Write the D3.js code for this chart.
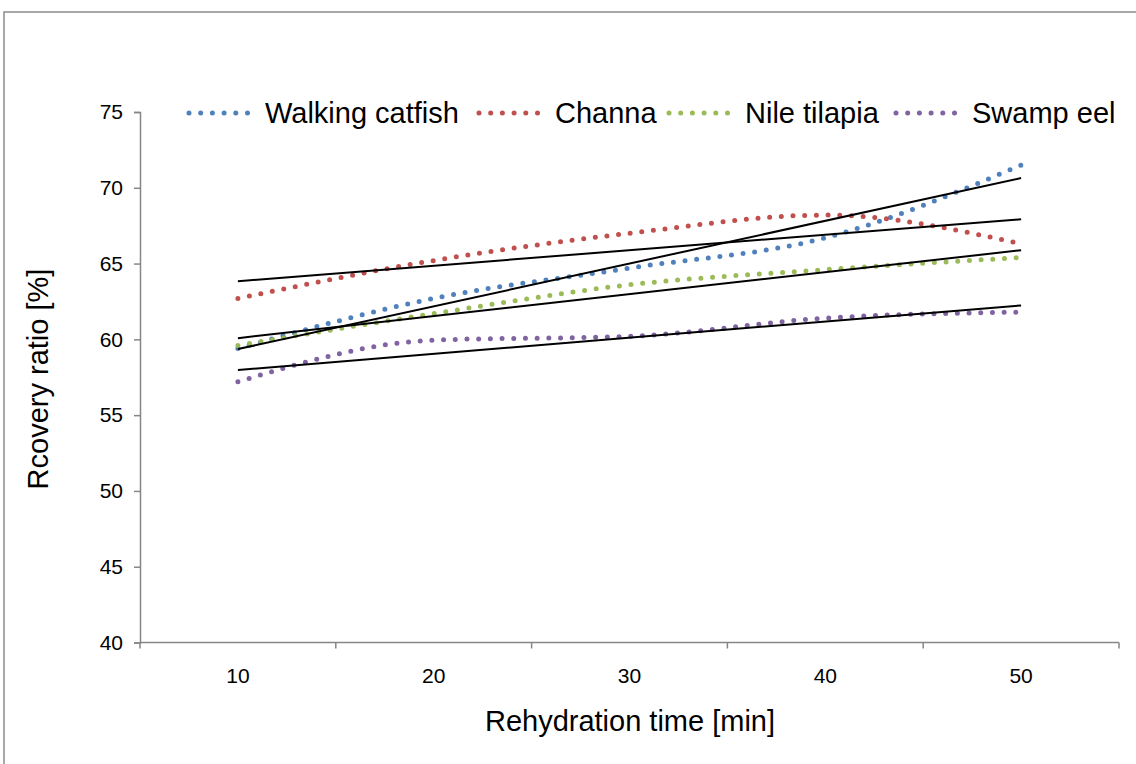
<!DOCTYPE html>
<html>
  <head>
    <title>Recovery ratio</title>
    <script src="https://d3js.org/d3.v7.min.js"></script>
    <style>
      body { margin: 0; background: #fff; }
      text { font-family: "Liberation Sans", Arial, sans-serif; fill: #000; }
    </style>
  </head>
  <body>
  </body>
  <script>

var times = ["10", "20", "30", "40", "50"];
var seriesNames = ["Walking catfish", "Channa", "Nile tilapia", "Swamp eel"];
var seriesColors = ["#4F81BD", "#C0504D", "#9BBB59", "#8064A2"];
var walkingCatfish = [59.4, 62.7, 64.7, 66.7, 71.5];
var channa = [62.7, 65.2, 67.0, 68.2, 66.3];
var nileTilapia = [59.6, 61.7, 63.6, 64.6, 65.4];
var swampEel = [57.2, 59.95, 60.2, 61.4, 61.8];
var yTicks = [40, 45, 50, 55, 60, 65, 70, 75];

document.addEventListener("DOMContentLoaded", function(e) {

var width = 1136;
var height = 764;
var allSeries = [walkingCatfish, channa, nileTilapia, swampEel];

var svg = d3.select("body").append("svg")
            .attr("width", width)
            .attr("height", height);

// outer chart frame, runs off the right and bottom of the picture
svg.append("rect")
   .attr("x", 4).attr("y", 12)
   .attr("width", 1300).attr("height", 1000)
   .attr("fill", "none")
   .attr("stroke", "#8c8c8c")
   .attr("stroke-width", 1.5);

var x = d3.scaleBand().domain(times).range([140, 1119]);
var y = d3.scaleLinear().domain([40, 75]).range([642.5, 112]);

function cx(d, i) { return x(times[i]) + x.bandwidth() / 2; }

// y axis
var yAxis = svg.append("g")
               .attr("transform", "translate(140,0)")
               .call(d3.axisLeft(y).tickValues(yTicks).tickSize(6).tickPadding(11));
yAxis.selectAll("path, line").attr("stroke", "#868686").attr("stroke-width", 1.5);
yAxis.selectAll("text").style("font-size", "21px").attr("fill", "#000");

// x axis: ticks between the categories
var xAxis = svg.append("g")
               .attr("transform", "translate(0,642.5)")
               .call(d3.axisBottom(x).tickSize(0).tickPadding(26));
xAxis.select("path").attr("stroke", "#868686").attr("stroke-width", 1.5).attr("d", "M140,0H1119");
xAxis.selectAll("text").style("font-size", "21px").attr("fill", "#000");

var bounds = times.map(function(t) { return x(t); }).concat([1119]);
xAxis.selectAll(".sep")
     .data(bounds)
     .enter()
     .append("line")
     .attr("x1", function(d) { return d; })
     .attr("x2", function(d) { return d; })
     .attr("y1", 0).attr("y2", 6)
     .attr("stroke", "#868686")
     .attr("stroke-width", 1.5);

// axis titles
svg.append("text")
   .attr("x", 630).attr("y", 731)
   .attr("text-anchor", "middle")
   .style("font-size", "29px")
   .text("Rehydration time [min]");

svg.append("text")
   .attr("transform", "translate(48,379) rotate(-90)")
   .attr("text-anchor", "middle")
   .style("font-size", "29px")
   .text("Rcovery ratio [%]");

// smoothed dotted series
var line = d3.line()
             .x(cx)
             .y(function(d) { return y(d); })
             .curve(d3.curveMonotoneX);

svg.selectAll(".series")
   .data(allSeries)
   .enter()
   .append("path")
   .attr("class", "series")
   .attr("d", function(d) { return line(d); })
   .attr("fill", "none")
   .attr("stroke", function(d, i) { return seriesColors[i]; })
   .attr("stroke-width", 5)
   .attr("stroke-linecap", "round")
   .attr("stroke-dasharray", "0,11.7");

// linear trendlines (least squares on each series)
function trend(vals) {
    var n = vals.length;
    var xs = vals.map(function(d, i) { return i; });
    var mx = d3.mean(xs), my = d3.mean(vals);
    var num = 0, den = 0;
    for (var i = 0; i < n; i++) {
        num += (xs[i] - mx) * (vals[i] - my);
        den += (xs[i] - mx) * (xs[i] - mx);
    }
    var b = num / den;
    var a = my - b * mx;
    return [a, a + b * (n - 1)];
}

svg.selectAll(".trend")
   .data(allSeries)
   .enter()
   .append("line")
   .attr("class", "trend")
   .attr("x1", cx(null, 0))
   .attr("x2", cx(null, times.length - 1))
   .attr("y1", function(d) { return y(trend(d)[0]); })
   .attr("y2", function(d) { return y(trend(d)[1]); })
   .attr("stroke", "#000")
   .attr("stroke-width", 2);

// legend
var legendX = [188, 478, 668, 895];
var legend = svg.selectAll(".legend")
                .data(seriesNames)
                .enter()
                .append("g")
                .attr("class", "legend")
                .attr("transform", function(d, i) { return "translate(" + legendX[i] + ",113)"; });

legend.append("line")
      .attr("x1", 1).attr("x2", 62)
      .attr("y1", 0).attr("y2", 0)
      .attr("stroke", function(d, i) { return seriesColors[i]; })
      .attr("stroke-width", 5)
      .attr("stroke-linecap", "round")
      .attr("stroke-dasharray", "0,11.7");

legend.append("text")
      .attr("x", 77).attr("y", 10)
      .style("font-size", "29px")
      .text(function(d) { return d; });

});

  </script>
</html>
